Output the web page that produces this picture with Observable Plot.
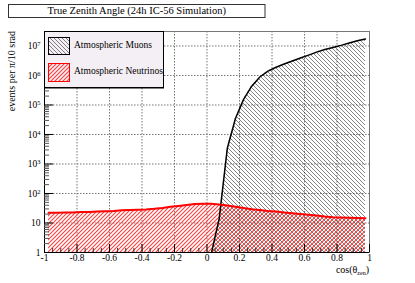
<!DOCTYPE html>
<html><head><meta charset="utf-8">
<script src="https://cdn.jsdelivr.net/npm/d3@7"></script>
<script src="https://cdn.jsdelivr.net/npm/@observablehq/plot@0.6"></script>
<style>
body{margin:0;background:#fff;}
#chart{position:relative;width:415px;height:283px;}
</style></head><body>
<svg width="0" height="0" style="position:absolute">
  <defs>
    <pattern id="hatchRed" patternUnits="userSpaceOnUse" width="4" height="4">
      <path d="M-1,5L5,-1M-1,1L1,-1M3,5L5,3" stroke="#ff4040" stroke-width="1.1" fill="none"/>
    </pattern>
    <pattern id="hatchBlack" patternUnits="userSpaceOnUse" width="4" height="4">
      <path d="M-1,-1L5,5M3,-1L5,1M-1,3L1,5" stroke="#333" stroke-width="0.6" fill="none"/>
    </pattern>
  </defs>
</svg>
<div id="chart"></div>
<script>
// ---- data ----
const titleText = "True Zenith Angle (24h IC-56 Simulation)";
const seriesNames = ["Atmospheric Muons", "Atmospheric Neutrinos"];
const yAxisLabel = "events per \u03c0/10 srad";

const nuCos = [-0.975,-0.925,-0.875,-0.825,-0.775,-0.725,-0.675,-0.625,-0.575,-0.525,
               -0.475,-0.425,-0.375,-0.325,-0.275,-0.225,-0.175,-0.125,-0.075,-0.025,
                0.025, 0.075, 0.125, 0.175, 0.225, 0.275, 0.325, 0.375, 0.425, 0.475,
                0.525, 0.575, 0.625, 0.675, 0.725, 0.775, 0.825, 0.875, 0.925, 0.975];
const nuCounts = [22.4,22.4,22.9,22.9,23.4,23.4,24.5,25.1,25.7,26.9,
                  27.5,28.2,28.8,30.2,32.4,35.5,38.0,40.7,43.7,44.7,
                  44.7,42.7,38.9,35.5,32.4,29.5,27.5,25.7,24.5,22.9,
                  21.4,20.0,19.1,17.8,16.6,15.8,15.5,15.1,14.8,14.5];

const muCos = [0.025,0.075,0.125,0.175,0.225,0.275,0.325,0.375,0.425,0.475,
               0.525,0.575,0.625,0.675,0.725,0.775,0.825,0.875,0.925,0.975];
const muCounts = [0.85,14,3400,35000,155000,436000,890000,1.41e6,1.9e6,2.45e6,
                  3.1e6,3.9e6,4.9e6,6.2e6,7.6e6,8.9e6,1.05e7,1.26e7,1.51e7,1.74e7];

const xTicks = [-1,-0.8,-0.6,-0.4,-0.2,0,0.2,0.4,0.6,0.8,1];
const xTickLabels = ["-1","-0.8","-0.6","-0.4","-0.2","0","0.2","0.4","0.6","0.8","1"];
const yTicks = [1,10,100,1e3,1e4,1e5,1e6,1e7];
const yTickBase = ["1","10","10","10","10","10","10","10"];
const yTickExp  = ["","","2","3","4","5","6","7"];

// ---- tables built from arrays ----
const nu = nuCos.map((c,i)=>({cos:c, n:nuCounts[i]}));
const mu = muCos.map((c,i)=>({cos:c, n:muCounts[i]}));
const xMinor = d3.range(-1, 1.0001, 0.05).map(v=>+v.toFixed(2)).filter(v=>!xTicks.includes(v));
const yMinor = [];
yTicks.slice(0,7).forEach(d=>{ for (let k=2;k<=9;k++) yMinor.push(d*k); });
yMinor.push(2e7, 3e7);
const xGrid = xTicks.slice(1,-1);
const yGrid = yTicks.slice(1);

const PW = 325, PH = 221;
const font = "'Liberation Serif', 'Times New Roman', serif";

const plot = Plot.plot({
  width: 415, height: 283,
  marginLeft: 44, marginRight: 46, marginTop: 31, marginBottom: 31,
  style: {fontFamily: font, fontSize: "9.5px", background: "transparent", color: "#000"},
  x: {domain: [-1, 1]},
  y: {type: "log", domain: [1, 3.1e7]},
  marks: [
    Plot.gridX(xGrid, {stroke: "#777", strokeOpacity: 1, strokeDasharray: "1.5,1.5"}),
    Plot.gridY(yGrid, {stroke: "#777", strokeOpacity: 1, strokeDasharray: "1.5,1.5"}),
    Plot.areaY(nu, {x: "cos", y1: 1, y2: "n", fill: "url(#hatchRed)", clip: true}),
    Plot.areaY(mu, {x: "cos", y1: 1, y2: "n", fill: "url(#hatchBlack)", clip: true}),
    Plot.line(mu, {x: "cos", y: "n", stroke: "#000", strokeWidth: 1.5, clip: true}),
    Plot.line(nu, {x: "cos", y: "n", stroke: "#f00", strokeWidth: 2, clip: true}),
    Plot.frame({stroke: "#777"}),
    Plot.ruleX([-1], {stroke: "#000"}),
    Plot.ruleY([1], {stroke: "#000"}),
    Plot.tickY(yTicks, {y: d=>d, insetRight: PW - 9, stroke: "#000"}),
    Plot.tickY(yMinor, {y: d=>d, insetRight: PW - 5, stroke: "#555"}),
    Plot.tickX(xTicks, {x: d=>d, insetTop: PH - 8, stroke: "#000"}),
    Plot.tickX(xMinor, {x: d=>d, insetTop: PH - 4, stroke: "#333"}),
    Plot.axisX({ticks: xTicks, tickSize: 0, tickPadding: 2, label: null,
                tickFormat: d => xTickLabels[xTicks.indexOf(d)]}),
    Plot.axisY({ticks: yTicks, tickSize: 0, tickPadding: 4, label: null,
                tickFormat: d => { const i = yTicks.indexOf(d); return yTickBase[i] + (yTickExp[i] ? "^" + yTickExp[i] : ""); }})
  ]
});
document.getElementById("chart").appendChild(plot);

const svg = d3.select(plot);
// superscripts on y tick labels
svg.selectAll("text").each(function(){
  const t = d3.select(this);
  const s = t.text();
  if (s.includes("^")) {
    const [b, e] = s.split("^");
    t.text(null);
    t.append("tspan").text(b);
    t.append("tspan").attr("dy", "-0.45em").attr("font-size", "6.5px").text(e);
  }
});

const deco = svg.append("g").attr("font-family", font).attr("fill", "#000").attr("text-anchor","start");

// title box
deco.append("rect").attr("x",8.5).attr("y",4.5).attr("width",256.5).attr("height",13)
  .attr("fill","#fff").attr("stroke","#333");
deco.append("text").attr("x",136.75).attr("y",11.3).attr("text-anchor","middle")
  .attr("dominant-baseline","middle").attr("font-size","10.5px").text(titleText);

// legend
deco.append("rect").attr("x",44.5).attr("y",31.5).attr("width",119).attr("height",56)
  .attr("fill","#f4eff4").attr("stroke","#000");
deco.append("line").attr("x1",45).attr("x2",164).attr("y1",88).attr("y2",88).attr("stroke","#000");
deco.append("rect").attr("x",48.5).attr("y",37.5).attr("width",21).attr("height",17)
  .attr("fill","url(#hatchBlack)").attr("stroke","#000");
deco.append("rect").attr("x",48.5).attr("y",63.5).attr("width",21).attr("height",18)
  .attr("fill","url(#hatchRed)").attr("stroke","#f00");
deco.append("text").attr("x",74).attr("y",46).attr("text-anchor","start").attr("dominant-baseline","middle")
  .attr("font-size","9.5px").text(seriesNames[0]);
deco.append("text").attr("x",74).attr("y",72).attr("text-anchor","start").attr("dominant-baseline","middle")
  .attr("font-size","9.5px").text(seriesNames[1]);

// y label
deco.append("text").attr("transform","translate(15,31) rotate(-90)").attr("text-anchor","end")
  .attr("font-size","10px").text(yAxisLabel);

// x label
const xl = deco.append("text").attr("x",369).attr("y",273).attr("text-anchor","end").attr("font-size","10px");
xl.append("tspan").text("cos(\u03b8");
xl.append("tspan").attr("font-size","6px").attr("dy","1.5").text("zen");
xl.append("tspan").attr("dy","-1.5").text(")");
</script></body></html>
